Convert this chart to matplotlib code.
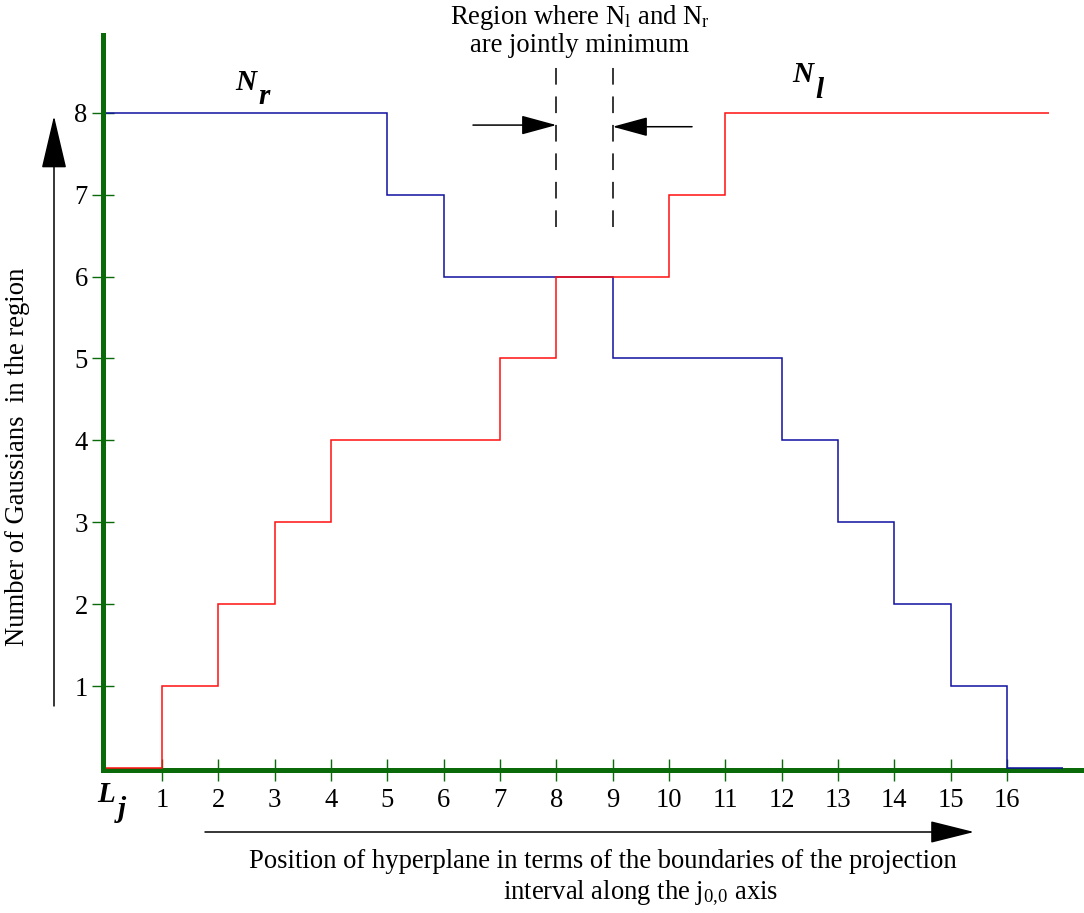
import matplotlib
matplotlib.use("Agg")
import matplotlib.pyplot as plt

# Step data: bin edges along the projection interval and counts per bin
nr_edges = [0, 5, 6, 9, 12, 13, 14, 15, 16, 17]
nr_counts = [8, 7, 6, 5, 4, 3, 2, 1, 0]
nl_edges = [0, 1, 2, 3, 4, 7, 8, 10, 11, 16.75]
nl_counts = [0, 1, 2, 3, 4, 5, 6, 7, 8]
x_ticks = list(range(1, 17))
y_ticks = list(range(1, 9))
min_region = (8, 9)

W, H = 1084, 913
GREEN = "#0a6a0a"
plt.rcParams["font.family"] = ["Liberation Serif", "DejaVu Serif"]
plt.rcParams["mathtext.fontset"] = "custom"
plt.rcParams["mathtext.rm"] = "Liberation Serif"
plt.rcParams["mathtext.it"] = "Liberation Serif:italic"
plt.rcParams["lines.scale_dashes"] = False


def px(x, y):
    return (x / W, 1 - y / H)


fig = plt.figure(figsize=(W / 100, H / 100), dpi=100)
ax = fig.add_axes([103 / W, 1 - 770 / H, 1 - 103 / W, (770 - 35) / H])
ax.set_xlim(-0.05, 17.37)
ax.set_ylim(-0.025, 8.95)

for side in ("top", "right"):
    ax.spines[side].set_visible(False)
for side in ("left", "bottom"):
    ax.spines[side].set_color(GREEN)
    ax.spines[side].set_linewidth(3.6)

fs = 19.2
ax.set_xticks(x_ticks)
ax.set_xticklabels([str(v) for v in x_ticks])
ax.set_yticks(y_ticks)
ax.set_yticklabels([str(v) for v in y_ticks])
ax.tick_params(axis="x", direction="inout", length=16, width=1.0,
               color=GREEN, labelsize=fs, pad=5)
ax.tick_params(axis="y", direction="inout", length=16, width=1.0,
               color=GREEN, labelsize=fs, pad=3)

ax.stairs(nr_counts, nr_edges, baseline=None, color="#1010a0",
          linewidth=1.1, zorder=3, clip_on=False)
ax.stairs(nl_counts, nl_edges, baseline=None, color="#ff1010",
          linewidth=1.1, zorder=3, clip_on=False)

# Boundaries of the jointly minimum region
for xv in min_region:
    ax.plot([xv, xv], [6.6, 8.65], color="black", linewidth=1.1,
            linestyle=(0, (12, 8.5)), zorder=3)

arrow = dict(arrowstyle="-|>,head_length=1.1,head_width=0.3",
             color="black", lw=1.1, mutation_scale=20,
             shrinkA=0, shrinkB=0)
ax.annotate("", xy=(min_region[0], 7.85), xytext=(6.52, 7.85), arrowprops=arrow)
ax.annotate("", xy=(min_region[1], 7.83), xytext=(10.41, 7.83), arrowprops=arrow)

# Axis direction arrows
fig.add_artist(matplotlib.patches.FancyArrowPatch(
    px(54, 706), px(54, 116), transform=fig.transFigure,
    arrowstyle="-|>,head_length=1.7,head_width=0.4", mutation_scale=20,
    color="black", lw=1.1, shrinkA=0, shrinkB=0))
fig.add_artist(matplotlib.patches.FancyArrowPatch(
    px(205, 832), px(974, 832), transform=fig.transFigure,
    arrowstyle="-|>,head_length=1.4,head_width=0.35", mutation_scale=20,
    color="black", lw=1.1, shrinkA=0, shrinkB=0))

fig.text(*px(580, 17), r"Region where N$_\mathrm{l}$ and N$_\mathrm{r}$",
         fontsize=fs, ha="center", va="center")
fig.text(*px(580, 45), "are jointly minimum", fontsize=fs,
         ha="center", va="center")

bi = dict(fontsize=21, fontstyle="italic", fontweight="bold",
          ha="center", va="center")
fig.text(*px(246, 82), "N", **bi)
fig.text(*px(264, 97), "r", **bi)
fig.text(*px(803, 75), "N", **bi)
fig.text(*px(819, 91), "l", **bi)
fig.text(*px(106, 794), "L", **bi)
fig.text(*px(122, 809), "j", **bi)

fig.text(*px(18, 457), "Number of Gaussians  in the region", fontsize=fs,
         rotation=90, ha="center", va="center")
fig.text(*px(603, 861),
         "Position of hyperplane in terms of the boundaries of the projection",
         fontsize=fs, ha="center", va="center")
fig.text(*px(641, 893), r"interval along the j$_\mathrm{0{,}0}$ axis",
         fontsize=fs, ha="center", va="center")

fig.savefig("out.png", dpi=100)
